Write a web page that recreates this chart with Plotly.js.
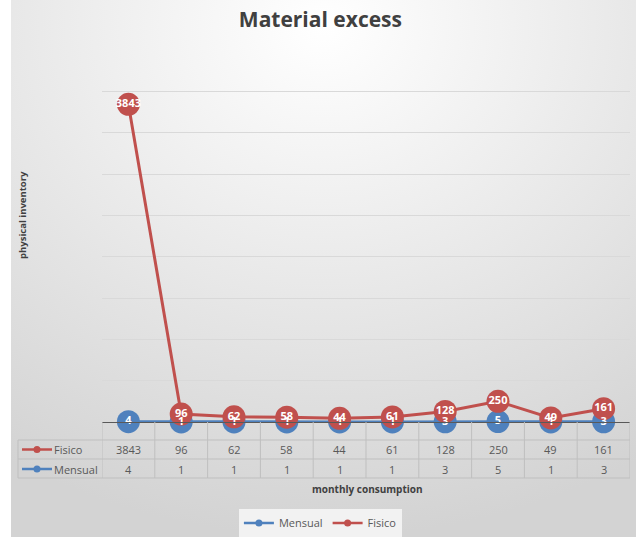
<!DOCTYPE html>
<html>
<head>
<meta charset="utf-8">
<script src="https://cdn.plot.ly/plotly-3.0.1.min.js"></script>
<style>html,body{margin:0;padding:0;background:#fff;}#chart{width:637px;height:537px;}</style>
</head>
<body>
<div id="chart"></div>
<script>
// ---- data ----
const seriesNames = ["Mensual", "Fisico"];
const mensual = [4, 1, 1, 1, 1, 1, 3, 5, 1, 3];
const fisico = [3843, 96, 62, 58, 44, 61, 128, 250, 49, 161];
const chartTitle = "Material excess";
const yTitle = "physical inventory";
const xTitle = "monthly consumption";

// ---- layout helpers ----
const W = 637, H = 537;
const L = 102, R = 7, T = 50, B = 115;
const PW = W - L - R, PH = H - T - B;
const px = p => (p - L) / PW;
const py = p => (T + PH - p) / PH;
const RED = "#c0504d", BLUE = "#4f81bd";
const FONT = "Open Sans, Noto Sans, sans-serif";
const xs = fisico.map((_, i) => i + 1);

const traces = [
  {x: xs, y: mensual, mode: "lines+markers", name: seriesNames[0], showlegend: false,
   line: {color: BLUE, width: 3}, marker: {size: 23, color: BLUE}, cliponaxis: false, hoverinfo: "skip"},
  {x: xs, y: fisico, mode: "lines+markers", name: seriesNames[1], showlegend: false,
   line: {color: RED, width: 3}, marker: {size: 23, color: RED}, cliponaxis: false, hoverinfo: "skip"},
  {x: xs, y: fisico, mode: "text", text: fisico.map(String), showlegend: false, cliponaxis: false,
   textposition: "middle center", textfont: {color: "#fff", size: 11, family: FONT, weight: "bold"}, hoverinfo: "skip"},
  {x: xs, y: mensual, mode: "text", text: mensual.map(String), showlegend: false, cliponaxis: false,
   textposition: "middle center", textfont: {color: "#fff", size: 11, family: FONT, weight: "bold"}, hoverinfo: "skip"},
  // legend-only entries
  {x: [null], y: [null], mode: "lines+markers", name: seriesNames[0], line: {color: BLUE, width: 2.5}, marker: {size: 7, color: BLUE}},
  {x: [null], y: [null], mode: "lines+markers", name: seriesNames[1], line: {color: RED, width: 2.5}, marker: {size: 7, color: RED}}
];

const gridC = "#bfbfbf";
const shapes = [];
const annotations = [];
// table vertical lines (column boundaries)
for (let k = 0; k <= xs.length; k++) {
  shapes.push({type: "line", xref: "x", yref: "paper", x0: k + 0.5, x1: k + 0.5, y0: py(422), y1: py(478), line: {color: gridC, width: 1}});
}
// header column left border
shapes.push({type: "line", xref: "paper", yref: "paper", x0: px(18), x1: px(18), y0: py(440), y1: py(478), line: {color: gridC, width: 1}});
// horizontal lines
[440, 459, 478].forEach(p => {
  shapes.push({type: "line", xref: "paper", yref: "paper", x0: px(18), x1: 1, y0: py(p), y1: py(p), line: {color: gridC, width: 1}});
});
// header legend icons
const rows = [{name: seriesNames[1], vals: fisico, col: RED, y: 449.5}, {name: seriesNames[0], vals: mensual, col: BLUE, y: 469}];
rows.forEach(r => {
  shapes.push({type: "line", xref: "paper", yref: "paper", x0: px(22), x1: px(52), y0: py(r.y), y1: py(r.y), line: {color: r.col, width: 2.5}});
  shapes.push({type: "circle", xref: "paper", yref: "paper", x0: px(33.5), x1: px(40.5), y0: py(r.y + 3.5), y1: py(r.y - 3.5), fillcolor: r.col, line: {width: 0}});
  annotations.push({xref: "paper", yref: "paper", x: px(52), y: py(r.y), xanchor: "left", yanchor: "middle", text: r.name, showarrow: false,
    font: {family: FONT, size: 11, color: "#595959"}});
  r.vals.forEach((v, i) => {
    annotations.push({xref: "x", yref: "paper", x: xs[i], y: py(r.y), xanchor: "center", yanchor: "middle", text: String(v), showarrow: false,
      font: {family: FONT, size: 11, color: "#595959"}});
  });
});
// axis titles
annotations.push({xref: "paper", yref: "paper", x: px(22), y: py(215), text: yTitle, textangle: -90, showarrow: false,
  xanchor: "center", yanchor: "middle", font: {family: FONT, size: 9.5, color: "#404040", weight: "bold"}});
annotations.push({xref: "paper", yref: "paper", x: px(367), y: py(489), text: xTitle, showarrow: false,
  xanchor: "center", yanchor: "middle", font: {family: FONT, size: 10, color: "#404040", weight: "bold"}});

const bgSvg = '<svg xmlns="http://www.w3.org/2000/svg" width="626" height="537"><defs><radialGradient id="g" cx="0.5" cy="0.05" r="0.95"><stop offset="0" stop-color="#ffffff"/><stop offset="1" stop-color="#d3d3d3"/></radialGradient></defs><rect width="626" height="537" fill="url(#g)"/></svg>';

const layout = {
  width: W, height: H,
  margin: {l: L, r: R, t: T, b: B},
  paper_bgcolor: "#ffffff", plot_bgcolor: "rgba(0,0,0,0)",
  title: {text: chartTitle, x: 0.503, xref: "container", xanchor: "center", y: 1 - 20 / H, yref: "container", yanchor: "middle",
    font: {family: FONT, size: 21, color: "#404040", weight: "bold"}},
  xaxis: {range: [0.5, 10.5], showgrid: false, zeroline: false, showticklabels: false, ticks: "", showline: true, linecolor: "#595959", linewidth: 1, fixedrange: true},
  yaxis: {range: [0, 4500], dtick: 500, showgrid: true, gridcolor: "#d9d9d9", gridwidth: 1, zeroline: false, showticklabels: false, ticks: "", showline: false, fixedrange: true},
  showlegend: true,
  legend: {orientation: "h", xref: "container", x: 0.503, xanchor: "center", yref: "container", y: (H - 523) / H, yanchor: "middle",
    bgcolor: "#f2f2f2", font: {family: FONT, size: 11, color: "#595959"}, itemwidth: 30, tracegroupgap: 0},
  shapes: shapes,
  annotations: annotations,
  images: [{source: "data:image/svg+xml;utf8," + encodeURIComponent(bgSvg), xref: "paper", yref: "paper",
    x: px(11), y: py(0), sizex: (636 - 11) / PW, sizey: H / PH, xanchor: "left", yanchor: "top", sizing: "stretch", layer: "below"}]
};

Plotly.newPlot("chart", traces, layout, {staticPlot: true, displayModeBar: false});
</script>
</body>
</html>
